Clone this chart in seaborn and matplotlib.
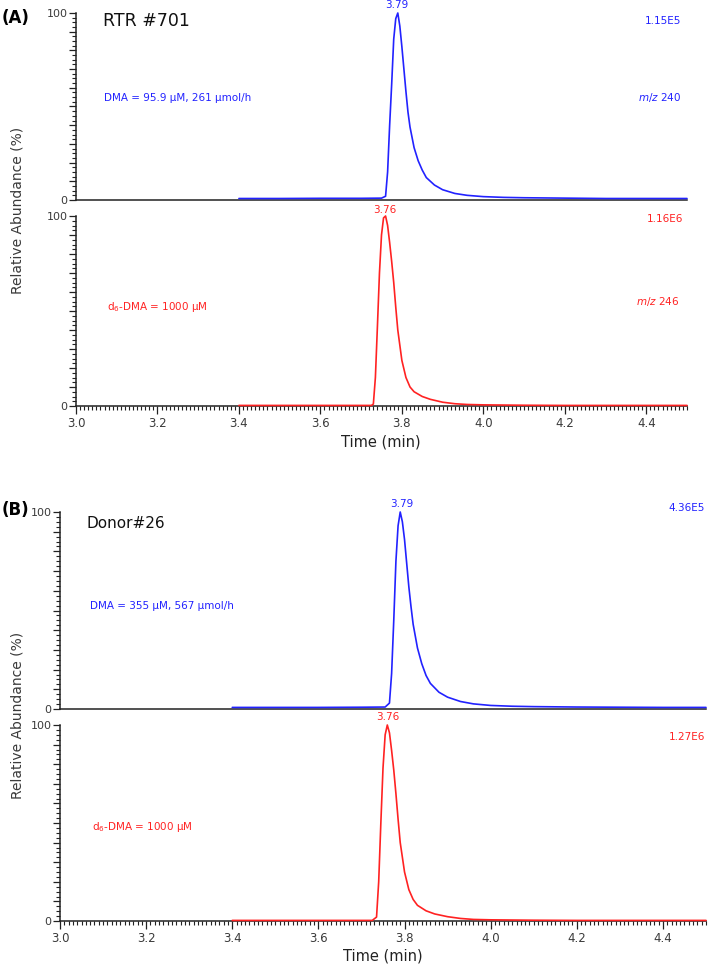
import numpy as np
import pandas as pd
import matplotlib
matplotlib.use("Agg")
import matplotlib.pyplot as plt
from matplotlib.ticker import MultipleLocator, FixedLocator, FuncFormatter
import seaborn as sns

sns.set_style("ticks")
plt.rcParams['font.family'] = ['DejaVu Sans']

# ---------------- data ----------------
blue_A_time = [3.40, 3.50, 3.60, 3.70, 3.75, 3.76, 3.765, 3.77, 3.775, 3.78, 3.785, 3.79, 3.795,
               3.80, 3.805, 3.81, 3.815, 3.82, 3.83, 3.84, 3.85, 3.86, 3.88, 3.90, 3.93, 3.96,
               4.00, 4.05, 4.10, 4.20, 4.30, 4.40, 4.50]
blue_A_int = [0.8, 0.8, 0.9, 0.9, 1.0, 2, 15, 40, 62, 86, 97, 100, 93,
              82, 70, 58, 47, 39, 28, 21, 16, 12, 8, 5.5, 3.5, 2.5,
              1.8, 1.4, 1.2, 1.0, 0.8, 0.8, 0.8]

red_A_time = [3.40, 3.50, 3.60, 3.70, 3.725, 3.73, 3.735, 3.74, 3.745, 3.75, 3.755, 3.76, 3.765,
              3.77, 3.775, 3.78, 3.785, 3.79, 3.80, 3.81, 3.82, 3.83, 3.85, 3.87, 3.90, 3.93,
              3.96, 4.00, 4.10, 4.20, 4.50]
red_A_int = [0.3, 0.3, 0.3, 0.3, 0.3, 1, 15, 42, 70, 90, 99, 100, 95,
             86, 76, 65, 52, 40, 24, 15, 10, 7.5, 5, 3.5, 2, 1.2,
             0.8, 0.6, 0.4, 0.3, 0.3]

blue_B_time = [3.40, 3.50, 3.60, 3.70, 3.755, 3.765, 3.77, 3.775, 3.78, 3.785, 3.79, 3.795,
               3.80, 3.805, 3.81, 3.815, 3.82, 3.83, 3.84, 3.85, 3.86, 3.88, 3.90, 3.93, 3.96,
               4.00, 4.05, 4.10, 4.20, 4.30, 4.40, 4.50]
blue_B_int = [0.8, 0.8, 0.8, 0.9, 1.0, 3, 18, 45, 75, 93, 100, 95,
              86, 74, 62, 52, 43, 31, 23, 17, 13, 8.5, 6, 3.8, 2.6,
              1.8, 1.4, 1.2, 1.0, 0.9, 0.8, 0.8]

red_B_time = [3.40, 3.50, 3.60, 3.70, 3.725, 3.735, 3.74, 3.745, 3.75, 3.755, 3.76, 3.765,
              3.77, 3.775, 3.78, 3.785, 3.79, 3.80, 3.81, 3.82, 3.83, 3.85, 3.87, 3.90, 3.93,
              3.96, 4.00, 4.10, 4.20, 4.50]
red_B_int = [0.3, 0.3, 0.3, 0.3, 0.3, 2, 20, 50, 78, 95, 100, 96,
             87, 77, 65, 52, 40, 25, 16, 11, 8, 5.2, 3.6, 2.2, 1.3,
             0.8, 0.6, 0.4, 0.3, 0.3]

x_tick_labels = ["3.0", "3.2", "3.4", "3.6", "3.8", "4.0", "4.2", "4.4"]

BLUE = "#2222ff"
RED = "#ff2222"
TXT = "#3a3a3a"

W, H = 708, 975
fig = plt.figure(figsize=(W / 100, H / 100), dpi=100)


def add_ax(left, top, right, bottom):
    return fig.add_axes([left / W, 1 - bottom / H, (right - left) / W, (bottom - top) / H])


def t(x, y, s, **kw):
    fig.text(x / W, 1 - y / H, s, **kw)


def style(ax, show_x):
    ax.set_xlim(3.0, 4.5)
    ax.set_ylim(0, 100)
    for sp in ["top", "right"]:
        ax.spines[sp].set_visible(False)
    for sp in ["left", "bottom"]:
        ax.spines[sp].set_color("#222222")
        ax.spines[sp].set_linewidth(1.1)
    ax.yaxis.set_major_locator(MultipleLocator(10))
    ax.yaxis.set_minor_locator(MultipleLocator(2.5))
    ax.yaxis.set_major_formatter(FuncFormatter(lambda v, p: f"{int(round(v))}" if round(v) in (0, 100) else ""))
    ax.tick_params(axis="y", which="major", length=5, width=0.9, direction="out",
                   labelsize=8, labelcolor=TXT, color="#222222", pad=1)
    ax.tick_params(axis="y", which="minor", length=3, width=0.8, direction="out", color="#222222")
    ax.set_ylabel("")
    ax.set_xlabel("")
    if show_x:
        ax.xaxis.set_major_locator(FixedLocator([3.0 + 0.2 * i for i in range(len(x_tick_labels))]))
        ax.set_xticklabels(x_tick_labels)
        ax.xaxis.set_minor_locator(MultipleLocator(0.01))
        ax.tick_params(axis="x", which="major", length=6, width=0.9, direction="out",
                       labelsize=8.5, labelcolor=TXT, color="#222222", pad=2)
        ax.tick_params(axis="x", which="minor", length=3, width=0.8, direction="out", color="#222222")
    else:
        ax.set_xticks([])
        ax.xaxis.set_minor_locator(FixedLocator([]))


def trace(ax, xs, ys, color):
    df = pd.DataFrame({"time": xs, "abund": ys})
    sns.lineplot(data=df, x="time", y="abund", ax=ax, color=color, linewidth=1.2,
                 clip_on=False, zorder=5)


# ---------------- Panel A ----------------
axA1 = add_ax(76, 13, 687, 200)
axA2 = add_ax(76, 216, 687, 406)
trace(axA1, blue_A_time, blue_A_int, BLUE)
trace(axA2, red_A_time, red_A_int, RED)
style(axA1, False)
style(axA2, True)

# ---------------- Panel B ----------------
axB1 = add_ax(60, 512, 706, 709)
axB2 = add_ax(60, 725, 706, 921)
trace(axB1, blue_B_time, blue_B_int, BLUE)
trace(axB2, red_B_time, red_B_int, RED)
style(axB1, False)
style(axB2, True)

# ---------------- texts ----------------
t(2, 18, "(A)", fontsize=12, fontweight="bold", va="center", ha="left", color="black")
t(103, 21, "RTR #701", fontsize=12.5, va="center", ha="left", color="#111111")
t(104, 98, "DMA = 95.9 μM, 261 μmol/h", fontsize=7.5, va="center", ha="left", color=BLUE)
t(397, 5, "3.79", fontsize=7.5, va="center", ha="center", color=BLUE)
t(681, 21, "1.15E5", fontsize=7.5, va="center", ha="right", color=BLUE)
t(681, 98, "$m/z$ 240", fontsize=7.5, va="center", ha="right", color=BLUE)
t(385, 210, "3.76", fontsize=7.5, va="center", ha="center", color=RED)
t(683, 219, "1.16E6", fontsize=7.5, va="center", ha="right", color=RED)
t(107, 307, "d$_6$-DMA = 1000 μM", fontsize=7.5, va="center", ha="left", color=RED)
t(680, 302, "$m/z$ 246", fontsize=7.5, va="center", ha="right", color=RED)
t(18, 210, "Relative Abundance (%)", fontsize=10, rotation=90, va="center", ha="center", color=TXT)
t(381, 442, "Time (min)", fontsize=10.5, va="center", ha="center", color="#222222")

t(2, 510, "(B)", fontsize=12, fontweight="bold", va="center", ha="left", color="black")
t(87, 523, "Donor#26", fontsize=11, va="center", ha="left", color="#111111")
t(90, 606, "DMA = 355 μM, 567 μmol/h", fontsize=7.5, va="center", ha="left", color=BLUE)
t(402, 504, "3.79", fontsize=7.5, va="center", ha="center", color=BLUE)
t(705, 508, "4.36E5", fontsize=7.5, va="center", ha="right", color=BLUE)
t(388, 717, "3.76", fontsize=7.5, va="center", ha="center", color=RED)
t(705, 737, "1.27E6", fontsize=7.5, va="center", ha="right", color=RED)
t(92, 827, "d$_6$-DMA = 1000 μM", fontsize=7.5, va="center", ha="left", color=RED)
t(18, 715, "Relative Abundance (%)", fontsize=10, rotation=90, va="center", ha="center", color=TXT)
t(383, 956, "Time (min)", fontsize=10.5, va="center", ha="center", color="#222222")

fig.savefig("out.png", dpi=100)
